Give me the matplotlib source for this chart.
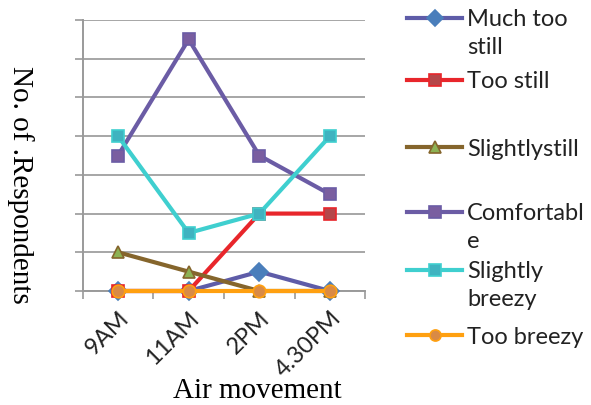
"""Air movement responses by time of day."""

import matplotlib
matplotlib.use("Agg")
import matplotlib.pyplot as plt
from matplotlib.lines import Line2D
import numpy as np

times = ["9AM", "11AM", "2PM", "4.30PM"]
much_too_still = [0, 0, 1, 0]
too_still = [0, 0, 4, 4]
slightly_still = [2, 1, 0, 0]
comfortable = [7, 13, 7, 5]
slightly_breezy = [8, 3, 4, 8]
too_breezy = [0, 0, 0, 0]

labels = ["Much too\nstill", "Too still", "Slightlystill",
          "Comfortabl\ne", "Slightly\nbreezy", "Too breezy"]

# (values, line colour, marker, marker face, marker edge)
series = [
    (much_too_still, "#5E5CA8", "D", "#4A7EBB", "#4A7EBB"),
    (too_still, "#E8262B", "s", "#B5474A", "#E8262B"),
    (slightly_still, "#85652C", "^", "#8DB254", "#85652C"),
    (comfortable, "#6B5CA5", "s", "#7A5EA0", "#6B5CA5"),
    (slightly_breezy, "#3FCFCF", "s", "#3FB3C0", "#3FCFCF"),
    (too_breezy, "#FFA010", "o", "#D98A45", "#FFA010"),
]

fig = plt.figure(figsize=(5.91, 4.05), dpi=100)
ax = fig.add_axes([0.140, 0.2815, 0.478, 0.669])

x = np.arange(len(times))
for vals, col, mk, mfc, mec in series:
    ax.plot(x, vals, color=col, lw=3, marker=mk, ms=9,
            markerfacecolor=mfc, markeredgecolor=mec, markeredgewidth=1.2,
            clip_on=False, zorder=3)

ax.set_xlim(-0.5, 3.5)
ax.set_ylim(0, 14)
ax.set_yticks(np.arange(0, 15, 2))
ax.set_yticklabels([])
ax.tick_params(axis="y", length=6, width=1.2, color="#9A9A9A")
ax.grid(axis="y", color="#A6A6A6", lw=1.4, zorder=0)
ax.set_axisbelow(True)

ax.set_xticks(x)
ax.set_xticklabels(times, rotation=45, ha="right", rotation_mode="anchor",
                   fontsize=17, family="Lato", color="#222222")
ax.set_xticks(np.arange(-0.5, 4, 1), minor=True)
ax.tick_params(axis="x", which="major", length=0, pad=12)
ax.tick_params(axis="x", which="minor", length=6, width=1.2, color="#9A9A9A")

for side in ["top", "right"]:
    ax.spines[side].set_visible(False)
for side in ["left", "bottom"]:
    ax.spines[side].set_color("#9A9A9A")
    ax.spines[side].set_linewidth(1.4)

fig.text(257 / 591, 1 - 391 / 405, "Air movement", ha="center", va="center",
         family="Liberation Serif", fontsize=21)
fig.text(20 / 591, 1 - 185 / 405, "No. of .Respondents", rotation=-90,
         ha="center", va="center", family="Liberation Serif", fontsize=21)

# legend drawn by hand so two-line entries keep the first line on the marker
leg_y = [18, 80, 147, 212, 270, 335]
for (vals, col, mk, mfc, mec), lab, yp in zip(series, labels, leg_y):
    yf = 1 - yp / 405
    fig.add_artist(Line2D([407 / 591, 462 / 591], [yf, yf], color=col, lw=3))
    fig.add_artist(Line2D([434.5 / 591], [yf], marker=mk, ms=8, color=col,
                          markerfacecolor=mfc, markeredgecolor=mec,
                          markeredgewidth=1.2))
    lines = lab.split("\n")
    for k, line in enumerate(lines):
        fig.text(467 / 591, yf - (8.5 + 27 * k) / 405, line, ha="left",
                 va="baseline", fontsize=17, family="Lato", color="#222222")

fig.savefig("out.png", dpi=100)
plt.close(fig)
